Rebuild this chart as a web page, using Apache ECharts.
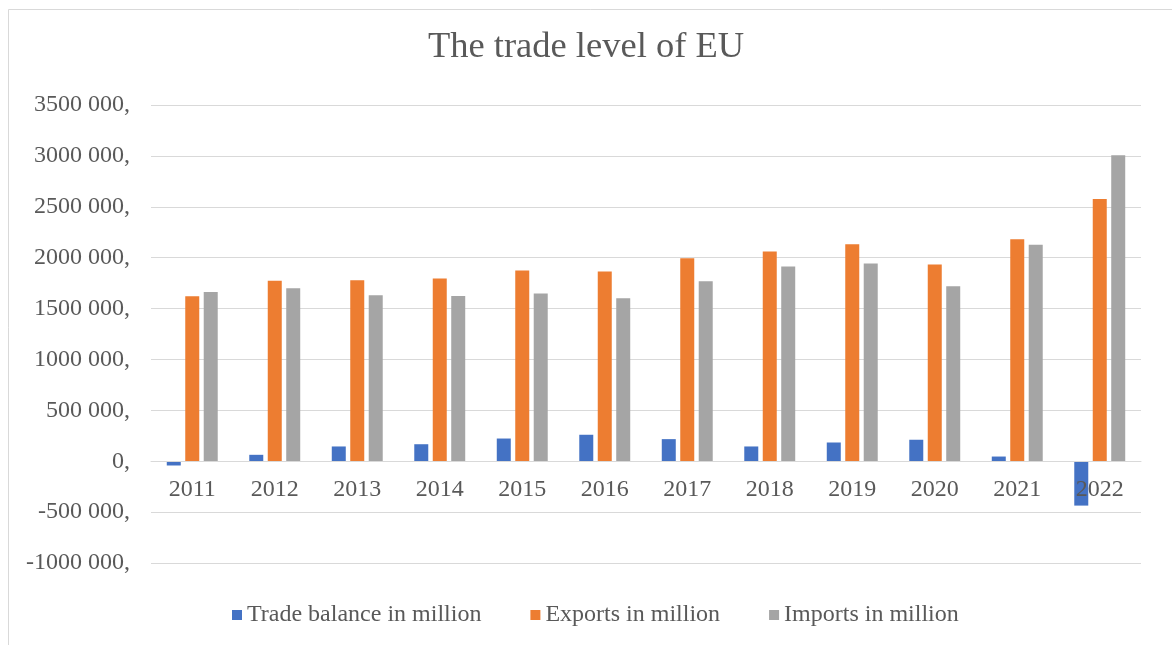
<!DOCTYPE html>
<html>
<head>
<meta charset="utf-8">
<script src="https://cdn.jsdelivr.net/npm/echarts@6/dist/echarts.min.js"></script>
<style>
  html, body { margin: 0; padding: 0; background: #ffffff; }
  #chart { width: 1172px; height: 645px; }
</style>
</head>
<body>
<div id="chart"></div>
<script>
// EU trade figures, in million
const years = ['2011', '2012', '2013', '2014', '2015', '2016', '2017', '2018', '2019', '2020', '2021', '2022'];
const tradeBalance = [-42000, 63000, 145000, 167000, 223000, 260000, 217000, 145000, 184000, 211000, 46000, -436000];
const exportsVal = [1621000, 1772000, 1779000, 1795000, 1874000, 1864000, 1995000, 2061000, 2133000, 1933000, 2182000, 2576000];
const importsVal = [1663000, 1700000, 1631000, 1624000, 1648000, 1601000, 1769000, 1913000, 1943000, 1719000, 2126000, 3006000];
const seriesNames = ['Trade balance in million', 'Exports in million', 'Imports in million'];

const Y_MIN = -1000000;
const Y_MAX = 3500000;
const Y_STEP = 500000;

const FONT = "'Times New Roman', 'Liberation Serif', serif";
const TEXT = '#595959';
const GRID_LINE = '#d9d9d9';

const GRID_TOP = 105;
const GRID_BOTTOM = 82;
const CHART_H = 645;

// "3500 000," style: last group of three digits split off, trailing comma
function fmt(v) {
  if (v === 0) return '0,';
  const sign = v < 0 ? '-' : '';
  const a = Math.abs(v);
  const head = Math.floor(a / 1000);
  const tail = String(a % 1000).padStart(3, '0');
  return sign + head + ' ' + tail + ',';
}

// lift the category axis from the bottom of the grid up to the zero line
const gridH = CHART_H - GRID_TOP - GRID_BOTTOM;
const zeroLift = gridH * (0 - Y_MIN) / (Y_MAX - Y_MIN);

const chart = echarts.init(document.getElementById('chart'), null, { renderer: 'canvas' });

const barCommon = { type: 'bar', barWidth: 14, barGap: '32%' };

chart.setOption({
  animation: false,
  backgroundColor: '#ffffff',
  graphic: [{
    type: 'rect',
    silent: true,
    shape: { x: 8.5, y: 9.5, width: 1300, height: 800 },
    style: { fill: 'none', stroke: GRID_LINE, lineWidth: 1 }
  }],
  title: {
    text: 'The trade level of EU',
    left: 'center',
    top: 24,
    textStyle: { fontFamily: FONT, fontSize: 36.5, fontWeight: 'normal', color: TEXT }
  },
  legend: {
    top: 603,
    left: 232,
    padding: 0,
    itemWidth: 10,
    itemHeight: 10,
    itemGap: 49,
    icon: 'rect',
    data: seriesNames,
    textStyle: { fontFamily: FONT, fontSize: 24, color: TEXT }
  },
  grid: { left: 151, right: 31, top: GRID_TOP, bottom: GRID_BOTTOM, containLabel: false },
  xAxis: {
    type: 'category',
    data: years,
    z: 3,
    position: 'bottom',
    offset: -zeroLift,
    axisLine: { onZero: false, lineStyle: { color: GRID_LINE, width: 1 } },
    axisTick: { show: false },
    axisLabel: { margin: 16, fontFamily: FONT, fontSize: 24, color: TEXT }
  },
  yAxis: {
    type: 'value',
    min: Y_MIN,
    max: Y_MAX,
    interval: Y_STEP,
    axisLine: { show: false },
    axisTick: { show: false },
    splitLine: { lineStyle: { color: GRID_LINE, width: 1 } },
    axisLabel: { margin: 21, fontFamily: FONT, fontSize: 24, color: TEXT, formatter: fmt }
  },
  series: [
    Object.assign({ name: seriesNames[0], data: tradeBalance, itemStyle: { color: '#4472C4' } }, barCommon),
    Object.assign({ name: seriesNames[1], data: exportsVal, itemStyle: { color: '#ED7D31' } }, barCommon),
    Object.assign({ name: seriesNames[2], data: importsVal, itemStyle: { color: '#A5A5A5' } }, barCommon)
  ]
});
</script>
</body>
</html>
